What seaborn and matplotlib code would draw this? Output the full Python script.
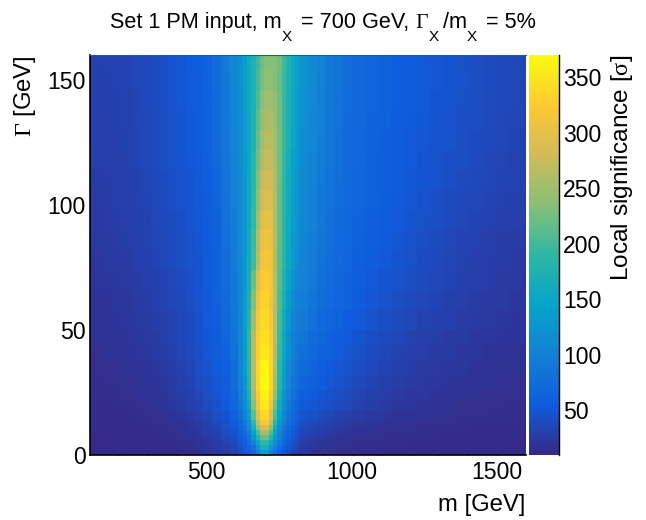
import numpy as np
import pandas as pd
import matplotlib
matplotlib.use('Agg')
import matplotlib.pyplot as plt
from matplotlib.colors import LinearSegmentedColormap
import seaborn as sns

# coarser far from the peak: bins per column / row
MASS_START, MASS_STEP = 100, 15
GAMMA_STEP = 2
mass_bins = [2] * 15 + [2, 2] + [1] * 14 + [2] * 6 + [3] * 13 + [1]
gamma_bins = [1] * 7 + [2] * 3 + [3] * 4 + [4] * 13 + [3]

# local significance, rows run from the lowest width upwards
significance = [
    [10,10,10,10,10,10,10,10,11,11,12,13,15,18,22,26,32, 38,45,55,70,95,140,135,105,80,62,48,38,32,27, 22,19,16,15,14,13, 13,12,12,11,11,11,11,11,10,10,10,10,10,10],
    [10,10,10,10,10,10,10,11,11,12,13,14,17,20,24,28,34, 44,52,65,85,120,170,168,130,98,76,60,48,40,34, 25,21,18,16,15,14, 13,13,12,12,11,11,11,11,11,10,10,10,10,10],
    [10,10,10,10,10,10,11,11,12,12,13,15,18,22,26,31,39, 50,60,76,105,150,190,188,155,115,88,68,54,45,38, 28,23,20,18,16,15, 14,14,13,13,12,12,11,11,11,11,11,10,10,10],
    [10,10,10,10,11,11,11,12,12,13,15,17,20,24,29,35,44, 55,66,85,125,180,220,222,185,130,98,76,60,50,42, 32,27,23,20,18,17, 15,15,14,13,13,12,12,12,11,11,11,11,11,10],
    [11,11,11,11,11,11,12,12,13,14,16,19,22,27,32,38,48, 60,74,98,145,205,250,252,210,148,108,83,66,55,46, 36,31,27,24,21,19, 17,16,15,14,14,13,13,12,12,12,12,11,11,11],
    [11,11,11,11,11,12,12,13,14,15,17,20,24,29,35,41,51, 65,82,112,170,240,285,290,240,165,120,90,72,60,50, 39,34,30,27,24,22, 20,18,16,15,15,14,13,13,13,12,12,12,11,11],
    [11,11,11,11,12,12,13,14,15,17,19,22,26,31,38,44,56, 70,90,125,190,270,320,322,270,185,132,98,78,65,54, 43,38,34,30,27,25, 22,20,18,17,16,15,14,14,13,13,13,12,12,12],
    [11,11,12,12,12,13,14,15,16,19,21,24,29,34,42,48,60, 78,100,140,215,295,338,340,292,205,145,108,85,71,59, 48,44,40,36,32,29, 26,23,21,19,18,17,16,15,14,14,14,13,13,13],
    [12,12,12,13,13,15,16,17,19,21,24,28,33,38,46,52,66, 86,110,155,235,312,352,354,310,225,160,118,92,76,64, 54,50,46,43,38,35, 31,27,24,22,21,19,17,16,15,15,14,14,13,12],
    [12,13,13,14,14,16,17,18,20,23,26,30,35,41,48,55,70, 93,120,168,250,325,362,362,325,242,172,128,100,82,69, 60,55,50,46,42,38, 34,30,27,24,22,21,19,18,17,16,15,15,14,14],
    [13,14,14,15,16,17,18,20,22,25,28,33,38,44,51,57,74, 100,128,178,260,335,368,370,335,255,183,136,106,88,78, 66,60,55,50,46,42, 37,33,30,27,24,23,21,20,19,18,17,16,15,15],
    [14,15,15,16,17,18,20,22,24,27,31,36,41,47,54,60,77, 105,134,185,265,335,362,366,338,262,190,143,112,95,84, 73,65,59,54,50,46, 41,37,33,30,27,25,23,22,21,19,18,17,16,16],
    [15,16,17,18,19,20,22,24,26,30,34,39,44,50,56,62,80, 108,138,188,265,330,352,356,332,265,195,150,120,100,88, 80,70,63,59,56,50, 44,40,35,32,29,27,25,24,22,21,19,18,17,17],
    [16,17,18,19,20,21,23,25,28,31,35,40,45,51,57,66,84, 108,138,185,262,325,345,348,325,265,198,152,122,102,92, 86,75,68,63,58,54, 48,43,38,35,32,29,27,25,24,22,21,20,19,18],
    [17,18,19,20,21,23,24,27,29,32,36,40,46,52,58,70,87, 108,136,180,252,318,338,340,318,265,202,160,130,108,96, 92,81,73,67,62,57, 52,47,42,38,35,32,30,28,26,24,23,22,20,20],
    [18,19,20,21,22,24,26,28,31,34,37,41,47,53,60,72,90, 108,134,172,235,305,332,335,312,268,208,168,138,115,101, 97,86,77,71,65,61, 55,50,46,42,38,35,33,30,28,26,25,24,22,21],
    [20,21,22,23,24,26,28,30,33,36,39,43,48,54,60,74,91, 108,132,165,222,292,326,328,312,265,212,175,148,125,108, 100,89,81,74,68,64, 58,53,49,45,41,38,35,33,30,28,27,25,24,22],
    [22,23,24,25,26,28,30,33,35,38,41,45,49,54,60,76,93, 108,130,160,200,265,310,320,312,265,215,182,155,135,118, 103,92,84,77,71,66, 60,55,52,48,44,40,37,34,31,29,27,26,24,23],
    [23,24,25,26,27,29,31,34,36,39,42,46,50,55,62,78,95, 110,130,158,198,258,302,310,306,264,218,184,157,138,121, 106,95,87,80,73,68, 62,58,54,50,46,42,39,36,33,31,29,27,26,25],
    [24,25,26,27,28,30,32,35,37,40,43,47,51,56,63,80,97, 111,130,156,194,250,292,300,298,262,219,185,159,140,123, 109,98,89,82,75,70, 64,60,56,52,48,44,41,38,35,33,31,29,28,27],
    [25,26,27,28,29,31,33,36,38,41,45,48,52,57,65,82,99, 113,131,155,190,240,280,291,290,260,220,186,161,142,125, 111,100,91,84,77,71, 66,62,58,54,50,46,43,40,37,35,33,31,30,28],
    [26,27,27,28,30,32,34,37,40,43,46,49,53,58,67,84,100, 114,132,154,186,232,270,282,282,258,222,189,164,144,128, 113,102,93,85,78,73, 67,63,59,55,51,48,45,42,39,37,35,33,31,30],
    [27,28,28,29,31,33,35,38,41,44,47,51,54,59,69,86,102, 116,133,152,182,224,260,272,273,254,224,191,166,146,130, 115,104,95,87,80,74, 68,63,60,56,52,49,46,43,41,38,36,34,32,31],
    [28,29,29,30,32,33,36,39,42,45,48,52,55,60,71,88,104, 117,135,152,179,218,250,263,265,250,225,195,170,150,134, 117,106,97,88,81,75, 68,64,60,57,53,50,47,45,42,40,37,35,33,32],
    [29,29,30,31,32,34,36,39,42,46,49,53,56,60,72,89,105, 118,136,154,177,212,242,255,257,245,223,195,171,152,136, 119,108,99,90,82,75, 69,64,61,57,54,51,48,46,43,41,38,36,34,32],
    [29,30,30,31,32,34,37,40,43,46,50,54,57,61,73,90,106, 120,138,156,175,206,234,248,250,240,222,195,172,154,138, 121,110,100,91,83,76, 70,65,61,58,55,52,49,47,44,42,39,37,35,33],
    [30,30,31,31,33,35,37,40,43,47,50,54,57,61,74,91,107, 121,139,157,175,202,227,240,242,232,220,195,173,156,140, 123,112,102,92,84,77, 70,65,61,58,55,52,50,47,45,42,40,37,35,33],
    [30,31,31,32,33,35,37,40,43,47,51,55,58,62,75,92,108, 122,140,158,176,198,222,233,235,233,222,198,175,158,143, 125,114,104,94,85,76, 70,65,61,58,55,52,50,47,44,41,39,37,35,33],
]

mass_ticks = [500, 1000, 1500]
mass_minor = [200, 300, 400, 600, 700, 800, 900, 1100, 1200, 1300, 1400]
gamma_ticks = [0, 50, 100, 150]
gamma_minor = [10, 20, 30, 40, 60, 70, 80, 90, 110, 120, 130, 140]
cbar_ticks = [50, 100, 150, 200, 250, 300, 350]

# ROOT kBird palette
bird = [(0.2082, 0.1664, 0.5293), (0.0592, 0.3599, 0.8684), (0.0780, 0.5041, 0.8385),
        (0.0232, 0.6419, 0.7914), (0.1802, 0.7178, 0.6425), (0.5301, 0.7492, 0.4662),
        (0.8186, 0.7328, 0.3499), (0.9956, 0.7862, 0.1968), (0.9764, 0.9832, 0.0539)]
cmap = LinearSegmentedColormap.from_list('bird', bird, N=255)

sns.set_style('ticks')
plt.rcParams['font.family'] = ['Liberation Sans', 'DejaVu Sans']
plt.rcParams['mathtext.fontset'] = 'custom'
plt.rcParams['mathtext.rm'] = 'Liberation Sans'
plt.rcParams['mathtext.tt'] = 'Liberation Serif'
plt.rcParams['axes.edgecolor'] = 'black'
plt.rcParams['xtick.color'] = 'black'
plt.rcParams['ytick.color'] = 'black'
plt.rcParams['text.color'] = 'black'

W, H = 646, 520
fig = plt.figure(figsize=(W / 100, H / 100), dpi=100)
ax = fig.add_axes([90 / W, 1 - 455 / H, 436 / W, 400 / H])
cax = fig.add_axes([528.5 / W, 1 - 455 / H, 30.5 / W, 400 / H])

table = np.repeat(np.repeat(np.array(significance), gamma_bins, axis=0), mass_bins, axis=1)
masses = MASS_START + MASS_STEP * np.arange(table.shape[1])
gammas = GAMMA_STEP * np.arange(table.shape[0])
df = pd.DataFrame(table, index=gammas, columns=masses)

sns.heatmap(df, ax=ax, cbar_ax=cax, cmap=cmap, vmin=9.5, vmax=370,
            xticklabels=False, yticklabels=False, cbar_kws={'ticks': cbar_ticks})
ax.invert_yaxis()


def xpos(m):
    return (np.asarray(m) - MASS_START) / MASS_STEP


def ypos(g):
    return np.asarray(g) / GAMMA_STEP


ax.set_xticks(xpos(mass_ticks))
ax.set_xticklabels([str(m) for m in mass_ticks])
ax.set_xticks(xpos(mass_minor), minor=True)
ax.set_yticks(ypos(gamma_ticks))
ax.set_yticklabels([str(g) for g in gamma_ticks], rotation=0)
ax.set_yticks(ypos(gamma_minor), minor=True)

ax.tick_params(axis='x', which='major', direction='in', length=7.2, width=1.0, labelsize=16.6, pad=4)
ax.tick_params(axis='x', which='minor', direction='in', length=4, width=1.0)
ax.tick_params(axis='y', which='major', direction='in', length=10.8, width=1.0, labelsize=16.6, pad=3)
ax.tick_params(axis='y', which='minor', direction='in', length=5.4, width=1.0)
# the tick at zero would only thicken the bottom axis line
ax.yaxis.get_major_ticks()[0].tick1line.set_visible(False)
for side in ['left', 'bottom']:
    ax.spines[side].set_visible(True)
    ax.spines[side].set_linewidth(1.2)
    ax.spines[side].set_color('black')
ax.spines['top'].set_visible(True)
ax.spines['top'].set_linewidth(0.8)
ax.spines['top'].set_color('#33557f')
ax.spines['right'].set_visible(False)

cbar = ax.collections[0].colorbar
cbar.outline.set_visible(False)
cax.spines['right'].set_visible(True)
cax.spines['right'].set_color('black')
cax.spines['right'].set_linewidth(1.0)
cax.tick_params(which='major', direction='in', length=10.8, width=1.0, labelsize=16.6, pad=3, right=True)
cax.minorticks_off()

# title in pieces, the subscripts sit far below the line
title_parts = [('Set 1 PM input, m', False), ('X', True), (' = 700 GeV, ', False),
               (r'$\mathtt{\Gamma}$', False), ('X', True), ('/m', False), ('X', True), (' = 5%', False)]
renderer = fig.canvas.get_renderer()
pieces = []
total = 0
for part, is_sub in title_parts:
    t = fig.text(0, 1 - (41 if is_sub else 28) / H, part, va='baseline', fontsize=11 if is_sub else 15.6)
    adv = t.get_window_extent(renderer).width + (3.5 if is_sub else 0)
    pieces.append((t, adv))
    total += adv
left = 323 - total / 2
for t, adv in pieces:
    t.set_x(left / W)
    left += adv

fig.text(525 / W, 1 - 505.5 / H, 'm [GeV]', ha='right', va='center', fontsize=17.2)
fig.text(25 / W, 1 - 55 / H, r'$\mathtt{\Gamma}$ [GeV]', rotation=90, ha='center', va='top', fontsize=17.2)
fig.text(622 / W, 1 - 55 / H, r'Local significance [$\mathtt{\sigma}$]', rotation=90, ha='center', va='top', fontsize=17.6)

fig.savefig('out.png', dpi=100)
